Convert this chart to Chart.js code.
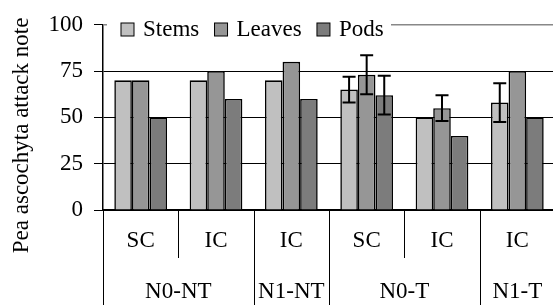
<!doctype html>
<html>

<head>
    <title>Pea ascochyta attack note</title>
    <script src="https://cdn.jsdelivr.net/npm/chart.js"></script>
</head>

<style>
    html, body { margin: 0; padding: 0; overflow: hidden; background: white; }
    /* the last category runs a couple of pixels past the right edge in the original */
    #wrap { width: 553px; height: 305px; overflow: hidden; }
</style>

<body>
    <div id="wrap">
        <canvas id="grafico" width="555" height="305"></canvas>
    </div>

    <script>
        var treatments = ['SC', 'IC', 'IC', 'SC', 'IC', 'IC'];
        var systems = ['N0-NT', 'N0-NT', 'N1-NT', 'N0-T', 'N0-T', 'N1-T'];
        var stems = [70, 70, 70, 65, 50, 58];
        var leaves = [70, 75, 80, 73, 55, 75];
        var pods = [50, 60, 60, 62, 40, 50];
        var stemsErr = [0, 0, 0, 7, 0, 10.5];
        var leavesErr = [0, 0, 0, 10.5, 7, 0];
        var podsErr = [0, 0, 0, 10.5, 0, 0];
        var yTicks = [0, 25, 50, 75, 100];
        var yTitle = 'Pea ascochyta attack note';

        var fonte = '"Liberation Serif", "Times New Roman", serif';
        Chart.defaults.font.family = fonte;
        Chart.defaults.font.size = 23;
        Chart.defaults.color = '#000';

        // error bars, legend inside the plot, axis title, category dividers and the second label row
        var decoracao = {
            id: 'decoracao',
            afterDatasetsDraw(chart) {
                var ctx = chart.ctx;
                var y = chart.scales.y;
                ctx.save();
                ctx.strokeStyle = '#000';
                ctx.lineWidth = 2;
                chart.data.datasets.forEach((ds, i) => {
                    chart.getDatasetMeta(i).data.forEach((bar, j) => {
                        var e = ds.err[j];
                        if (!e) return;
                        var topo = y.getPixelForValue(ds.data[j] + e);
                        var base = y.getPixelForValue(ds.data[j] - e);
                        var meio = bar.width * 0.37;
                        ctx.beginPath();
                        ctx.moveTo(bar.x, topo); ctx.lineTo(bar.x, base);
                        ctx.moveTo(bar.x - meio, topo); ctx.lineTo(bar.x + meio, topo);
                        ctx.moveTo(bar.x - meio, base); ctx.lineTo(bar.x + meio, base);
                        ctx.stroke();
                    });
                });
                ctx.restore();
            },
            afterDraw(chart) {
                var ctx = chart.ctx;
                var area = chart.chartArea;
                var x = chart.scales.x;
                ctx.save();
                ctx.font = '23px ' + fonte;
                ctx.textBaseline = 'middle';
                ctx.textAlign = 'left';

                // legend
                var lx = area.left + 18;
                var ly = 29.5;
                chart.data.datasets.forEach((ds) => {
                    ctx.fillStyle = ds.backgroundColor;
                    ctx.fillRect(lx, ly - 6.5, 13, 13);
                    ctx.strokeStyle = '#000';
                    ctx.lineWidth = 1;
                    ctx.strokeRect(lx, ly - 6.5, 13, 13);
                    ctx.fillStyle = '#000';
                    ctx.fillText(ds.label, lx + 22, ly);
                    lx += 22 + ctx.measureText(ds.label).width + 15.3;
                });

                // top border of the plot, to the right of the legend
                ctx.strokeStyle = '#888';
                ctx.lineWidth = 1.5;
                ctx.beginPath();
                ctx.moveTo(lx - 8, area.top);
                ctx.lineTo(area.right, area.top);
                ctx.moveTo(area.left, area.top);
                ctx.lineTo(area.left + 4, area.top);
                ctx.stroke();

                // y axis title
                ctx.save();
                ctx.translate(22, (area.top + area.bottom) / 2 + 18);
                ctx.rotate(-Math.PI / 2);
                ctx.textAlign = 'center';
                ctx.fillStyle = '#000';
                ctx.fillText(yTitle, 0, 0);
                ctx.restore();

                // dividers below the axis
                var passo = x.getPixelForValue(1) - x.getPixelForValue(0);
                ctx.strokeStyle = '#000';
                ctx.lineWidth = 1;
                for (var k = 0; k <= treatments.length; k++) {
                    var px = Math.round(area.left + k * passo) + 0.5;
                    var curto = k > 0 && k < systems.length && systems[k - 1] === systems[k];
                    ctx.beginPath();
                    ctx.moveTo(px, area.bottom);
                    ctx.lineTo(px, curto ? 258 : chart.height);
                    ctx.stroke();
                }

                // second label row
                ctx.fillStyle = '#000';
                ctx.textAlign = 'center';
                var inicio = 0;
                for (var k = 1; k <= systems.length; k++) {
                    if (k === systems.length || systems[k] !== systems[inicio]) {
                        var cx = area.left + (inicio + k) / 2 * passo;
                        ctx.fillText(systems[inicio], cx, 291.5);
                        inicio = k;
                    }
                }
                ctx.restore();
            }
        };

        var grafico = new Chart(document.getElementById('grafico').getContext('2d'), {
            type: 'bar',
            data: {
                labels: treatments,
                datasets: [{
                    label: 'Stems',
                    data: stems,
                    err: stemsErr,
                    backgroundColor: '#c0c0c0'
                }, {
                    label: 'Leaves',
                    data: leaves,
                    err: leavesErr,
                    backgroundColor: '#969696'
                }, {
                    label: 'Pods',
                    data: pods,
                    err: podsErr,
                    backgroundColor: '#7c7c7c'
                }]
            },
            options: {
                responsive: false,
                animation: false,
                layout: {
                    padding: { top: 20, left: 0, right: 0, bottom: 0 }
                },
                datasets: {
                    bar: {
                        borderColor: '#000',
                        borderWidth: 1.6,
                        categoryPercentage: 0.7,
                        barPercentage: 1
                    }
                },
                plugins: {
                    legend: { display: false },
                    tooltip: { enabled: false }
                },
                scales: {
                    x: {
                        grid: { display: false, drawTicks: false },
                        border: { display: true, color: '#000', width: 1.5 },
                        ticks: { padding: 17 },
                        afterFit: (s) => { s.height = 95; }
                    },
                    y: {
                        min: 0,
                        max: 100,
                        afterBuildTicks: (s) => { s.ticks = yTicks.map(v => ({ value: v })); },
                        grid: {
                            color: (c) => (c.tick && c.tick.value === 100) ? 'rgba(0,0,0,0)' : '#000',
                            tickColor: '#000',
                            tickLength: 9,
                            lineWidth: 1
                        },
                        border: { display: true, color: '#000', width: 1.5 },
                        ticks: { padding: 11 },
                        afterFit: (s) => { s.width = 103; }
                    }
                }
            },
            plugins: [decoracao]
        });
    </script>
</body>

</html>
